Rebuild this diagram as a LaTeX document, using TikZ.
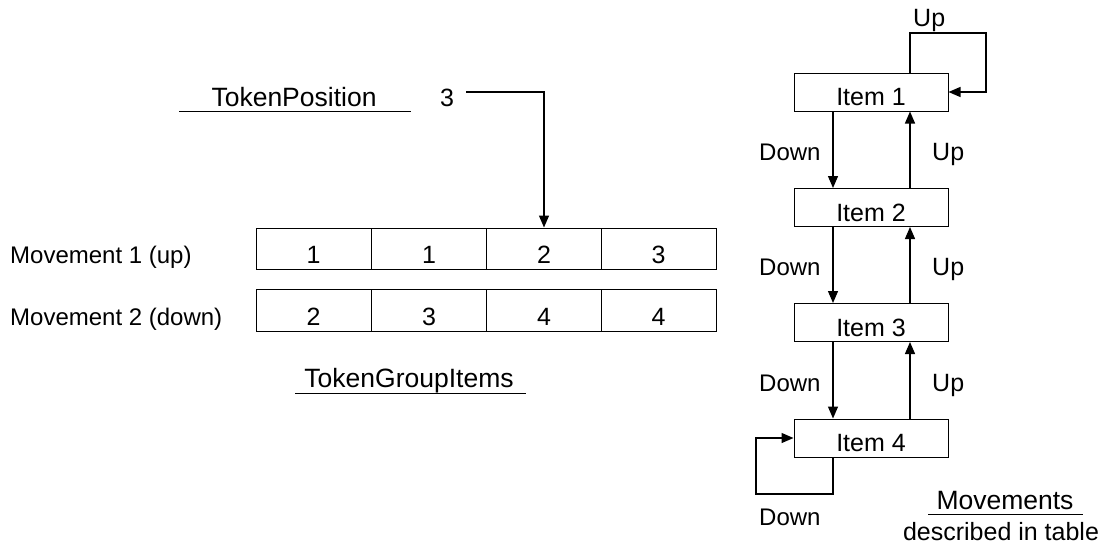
\documentclass[tikz,border=0pt]{standalone}
\usepackage{fontspec}
\setmainfont{Liberation Sans}
\usetikzlibrary{arrows.meta}
\begin{document}
\begin{tikzpicture}[x=1pt,y=-1pt,
  every node/.style={font=\fontsize{25}{29}\selectfont, inner sep=0pt},
  big/.style={font=\fontsize{26.5}{31}\selectfont},
  small/.style={font=\fontsize{24}{28}\selectfont},
  itembox/.style={draw, line width=1pt, minimum width=154pt, minimum height=38pt, text height=27pt, text depth=0pt},
  cell/.style={draw, line width=1pt, minimum width=115pt, minimum height=41pt, text height=30pt, text depth=0pt},
  conn/.style={line width=1.3pt, -{Triangle[length=12pt,width=10pt]}},
  rule/.style={line width=1pt}]
\useasboundingbox (0,0) rectangle (1120,552);

% items
\node[itembox] (i1) at (871,92) {Item 1};
\node[itembox] (i2) at (871,207.5) {Item 2};
\node[itembox] (i3) at (871,322.5) {Item 3};
\node[itembox] (i4) at (871,438) {Item 4};

\draw[conn] ([xshift=-38pt]i1.south) -- ([xshift=-38pt]i2.north);
\draw[conn] ([xshift=-38pt]i2.south) -- ([xshift=-38pt]i3.north);
\draw[conn] ([xshift=-38pt]i3.south) -- ([xshift=-38pt]i4.north);
\draw[conn] ([xshift=39pt]i2.north) -- ([xshift=39pt]i1.south);
\draw[conn] ([xshift=39pt]i3.north) -- ([xshift=39pt]i2.south);
\draw[conn] ([xshift=39pt]i4.north) -- ([xshift=39pt]i3.south);

\coordinate (loopA) at (986,33);
\coordinate (loopB) at (756,494);
\draw[conn] ([xshift=39pt]i1.north) |- (loopA) |- (i1.east);
\draw[conn] ([xshift=-38pt]i4.south) |- (loopB) |- (i4.west);

\node[anchor=base west] (lu0) at (913,26) {Up};
\node[anchor=base west, small] (ld1) at (759,160) {Down};
\node[anchor=base west, small] (ld2) at (759,275) {Down};
\node[anchor=base west, small] (ld3) at (759,391) {Down};
\node[anchor=base west, small] (ld4) at (759,525) {Down};
\node[anchor=base west] (lu1) at (932,160) {Up};
\node[anchor=base west] (lu2) at (932,275) {Up};
\node[anchor=base west] (lu3) at (932,391) {Up};

\node[anchor=base, big] (mv) at (1005,509) {Movements};
\draw[rule] (928,514.3) -- (1083,514.3);
\node[anchor=base] (dt) at (1001,540) {described in table};

% table
\node[cell] (c11) at (313.5,248.5) {1};
\node[cell] (c12) at (429,248.5) {1};
\node[cell] (c13) at (544,248.5) {2};
\node[cell] (c14) at (658.5,248.5) {3};
\node[cell, minimum height=42pt] (c21) at (313.5,310) {2};
\node[cell, minimum height=42pt] (c22) at (429,310) {3};
\node[cell, minimum height=42pt] (c23) at (544,310) {4};
\node[cell, minimum height=42pt] (c24) at (658.5,310) {4};

\node[anchor=base west, small] (m1) at (10,263.5) {Movement 1 (up)};
\node[anchor=base west, small] (m2) at (10,325.5) {Movement 2 (down)};

\node[anchor=base, big] (tgi) at (409,387) {TokenGroupItems};
\draw[rule] (295,393) -- (526,393);

\node[anchor=base, big] (tp) at (294,106) {TokenPosition};
\draw[rule] (179,111) -- (411,111);
\node[anchor=base] (tp3) at (447,106) {3};
\coordinate (tpstart) at (466,92);
\draw[conn] (tpstart) -| (c13.north);
\end{tikzpicture}
\end{document}
